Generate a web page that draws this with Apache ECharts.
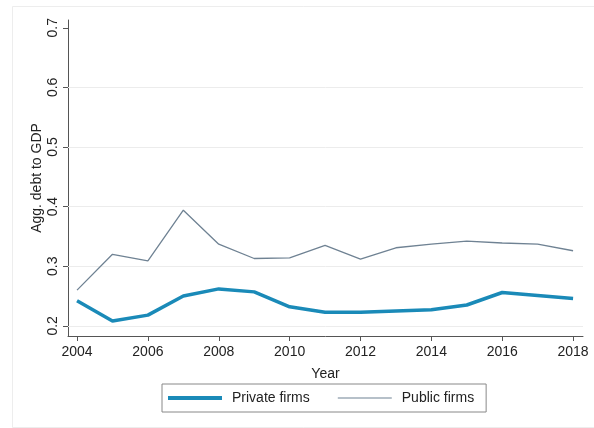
<!DOCTYPE html>
<html>
<head>
<meta charset="utf-8">
<script src="https://cdn.jsdelivr.net/npm/echarts@6/dist/echarts.min.js"></script>
<style>
  html, body { margin: 0; padding: 0; background: #fff; }
  #chart { width: 594px; height: 428px; }
</style>
</head>
<body>
<div id="chart"></div>
<script>
// years on the x axis
var years = [2004, 2005, 2006, 2007, 2008, 2009, 2010, 2011, 2012, 2013, 2014, 2015, 2016, 2017, 2018];
// agg. debt to GDP
var privateFirms = [0.242, 0.208, 0.218, 0.250, 0.262, 0.257, 0.232, 0.223, 0.223, 0.225, 0.227, 0.235, 0.256, 0.251, 0.246];
var publicFirms = [0.260, 0.320, 0.309, 0.394, 0.337, 0.313, 0.314, 0.335, 0.312, 0.331, 0.337, 0.342, 0.339, 0.337, 0.326];
// tick labels
var xTicks = [2004, 2006, 2008, 2010, 2012, 2014, 2016, 2018];
var yTicks = [0.2, 0.3, 0.4, 0.5, 0.6, 0.7];
var gridTicks = [0.2, 0.3, 0.4, 0.5, 0.6];

function pairs(vals) {
  return years.map(function (y, i) { return [y, vals[i]]; });
}

var chart = echarts.init(document.getElementById('chart'));
var axisCol = '#555';
var font = 'Liberation Sans, Arial, sans-serif';
var privCol = '#1a8ab8';
var pubCol = '#6f8293';

var option = {
  animation: false,
  backgroundColor: '#fff',
  grid: { left: 68, right: 11, top: 20, bottom: 92 },
  xAxis: {
    type: 'value',
    min: 2003.745,
    max: 2018.28,
    name: 'Year',
    nameLocation: 'middle',
    nameGap: 31,
    nameTextStyle: { color: '#222', fontSize: 14, fontFamily: font },
    axisLine: { show: true, lineStyle: { color: axisCol, width: 1 } },
    axisTick: { show: true, length: 5, lineStyle: { color: axisCol }, customValues: xTicks },
    axisLabel: {
      color: '#222', fontSize: 14, fontFamily: font, margin: 9, customValues: xTicks,
      formatter: function (v) { return String(v); }
    },
    splitLine: { show: false }
  },
  yAxis: {
    type: 'value',
    min: 0.183,
    max: 0.713,
    name: 'Agg. debt to GDP',
    nameLocation: 'middle',
    nameGap: 24,
    nameMoveOverlap: false,
    nameRotate: 90,
    nameTextStyle: { color: '#222', fontSize: 14, fontFamily: font },
    axisLine: { show: true, lineStyle: { color: axisCol, width: 1 } },
    axisTick: { show: true, length: 5, lineStyle: { color: axisCol }, customValues: yTicks },
    axisLabel: {
      color: '#222', fontSize: 14, fontFamily: font, rotate: 90, margin: 8, customValues: yTicks,
      formatter: function (v) { return v.toFixed(1); }
    },
    splitLine: { show: false }
  },
  legend: {
    left: 162,
    top: 384,
    height: 28,
    padding: [7, 12, 7, 6],
    itemGap: 28,
    itemWidth: 54,
    itemHeight: 14,
    borderColor: '#888',
    borderWidth: 1,
    textStyle: { color: '#222', fontSize: 14, fontFamily: font, padding: [0, 0, 0, 5] },
    data: [
      { name: 'Private firms', icon: 'path://M0,0H54V4H0Z', itemStyle: { color: privCol, borderWidth: 0 } },
      { name: 'Public firms', icon: 'path://M0,0H54V1.2H0Z', itemStyle: { color: pubCol, borderWidth: 0 } }
    ]
  },
  graphic: [
    { type: 'rect', left: 10, top: 4, shape: { width: 600, height: 421 },
      style: { fill: 'none', stroke: '#ededed', lineWidth: 1 }, silent: true }
  ],
  series: [
    {
      name: 'Private firms',
      type: 'line',
      data: pairs(privateFirms),
      showSymbol: false,
      symbol: 'none',
      lineStyle: { color: privCol, width: 3.5 },
      itemStyle: { color: privCol },
      z: 3,
      markLine: {
        silent: true,
        symbol: 'none',
        label: { show: false },
        lineStyle: { color: '#ececec', width: 1, type: 'solid' },
        data: gridTicks.map(function (v) { return { yAxis: v }; }),
        z: 1
      }
    },
    {
      name: 'Public firms',
      type: 'line',
      data: pairs(publicFirms),
      showSymbol: false,
      symbol: 'none',
      lineStyle: { color: pubCol, width: 1.3 },
      itemStyle: { color: pubCol },
      z: 3
    }
  ]
};
chart.setOption(option);
</script>
</body>
</html>
